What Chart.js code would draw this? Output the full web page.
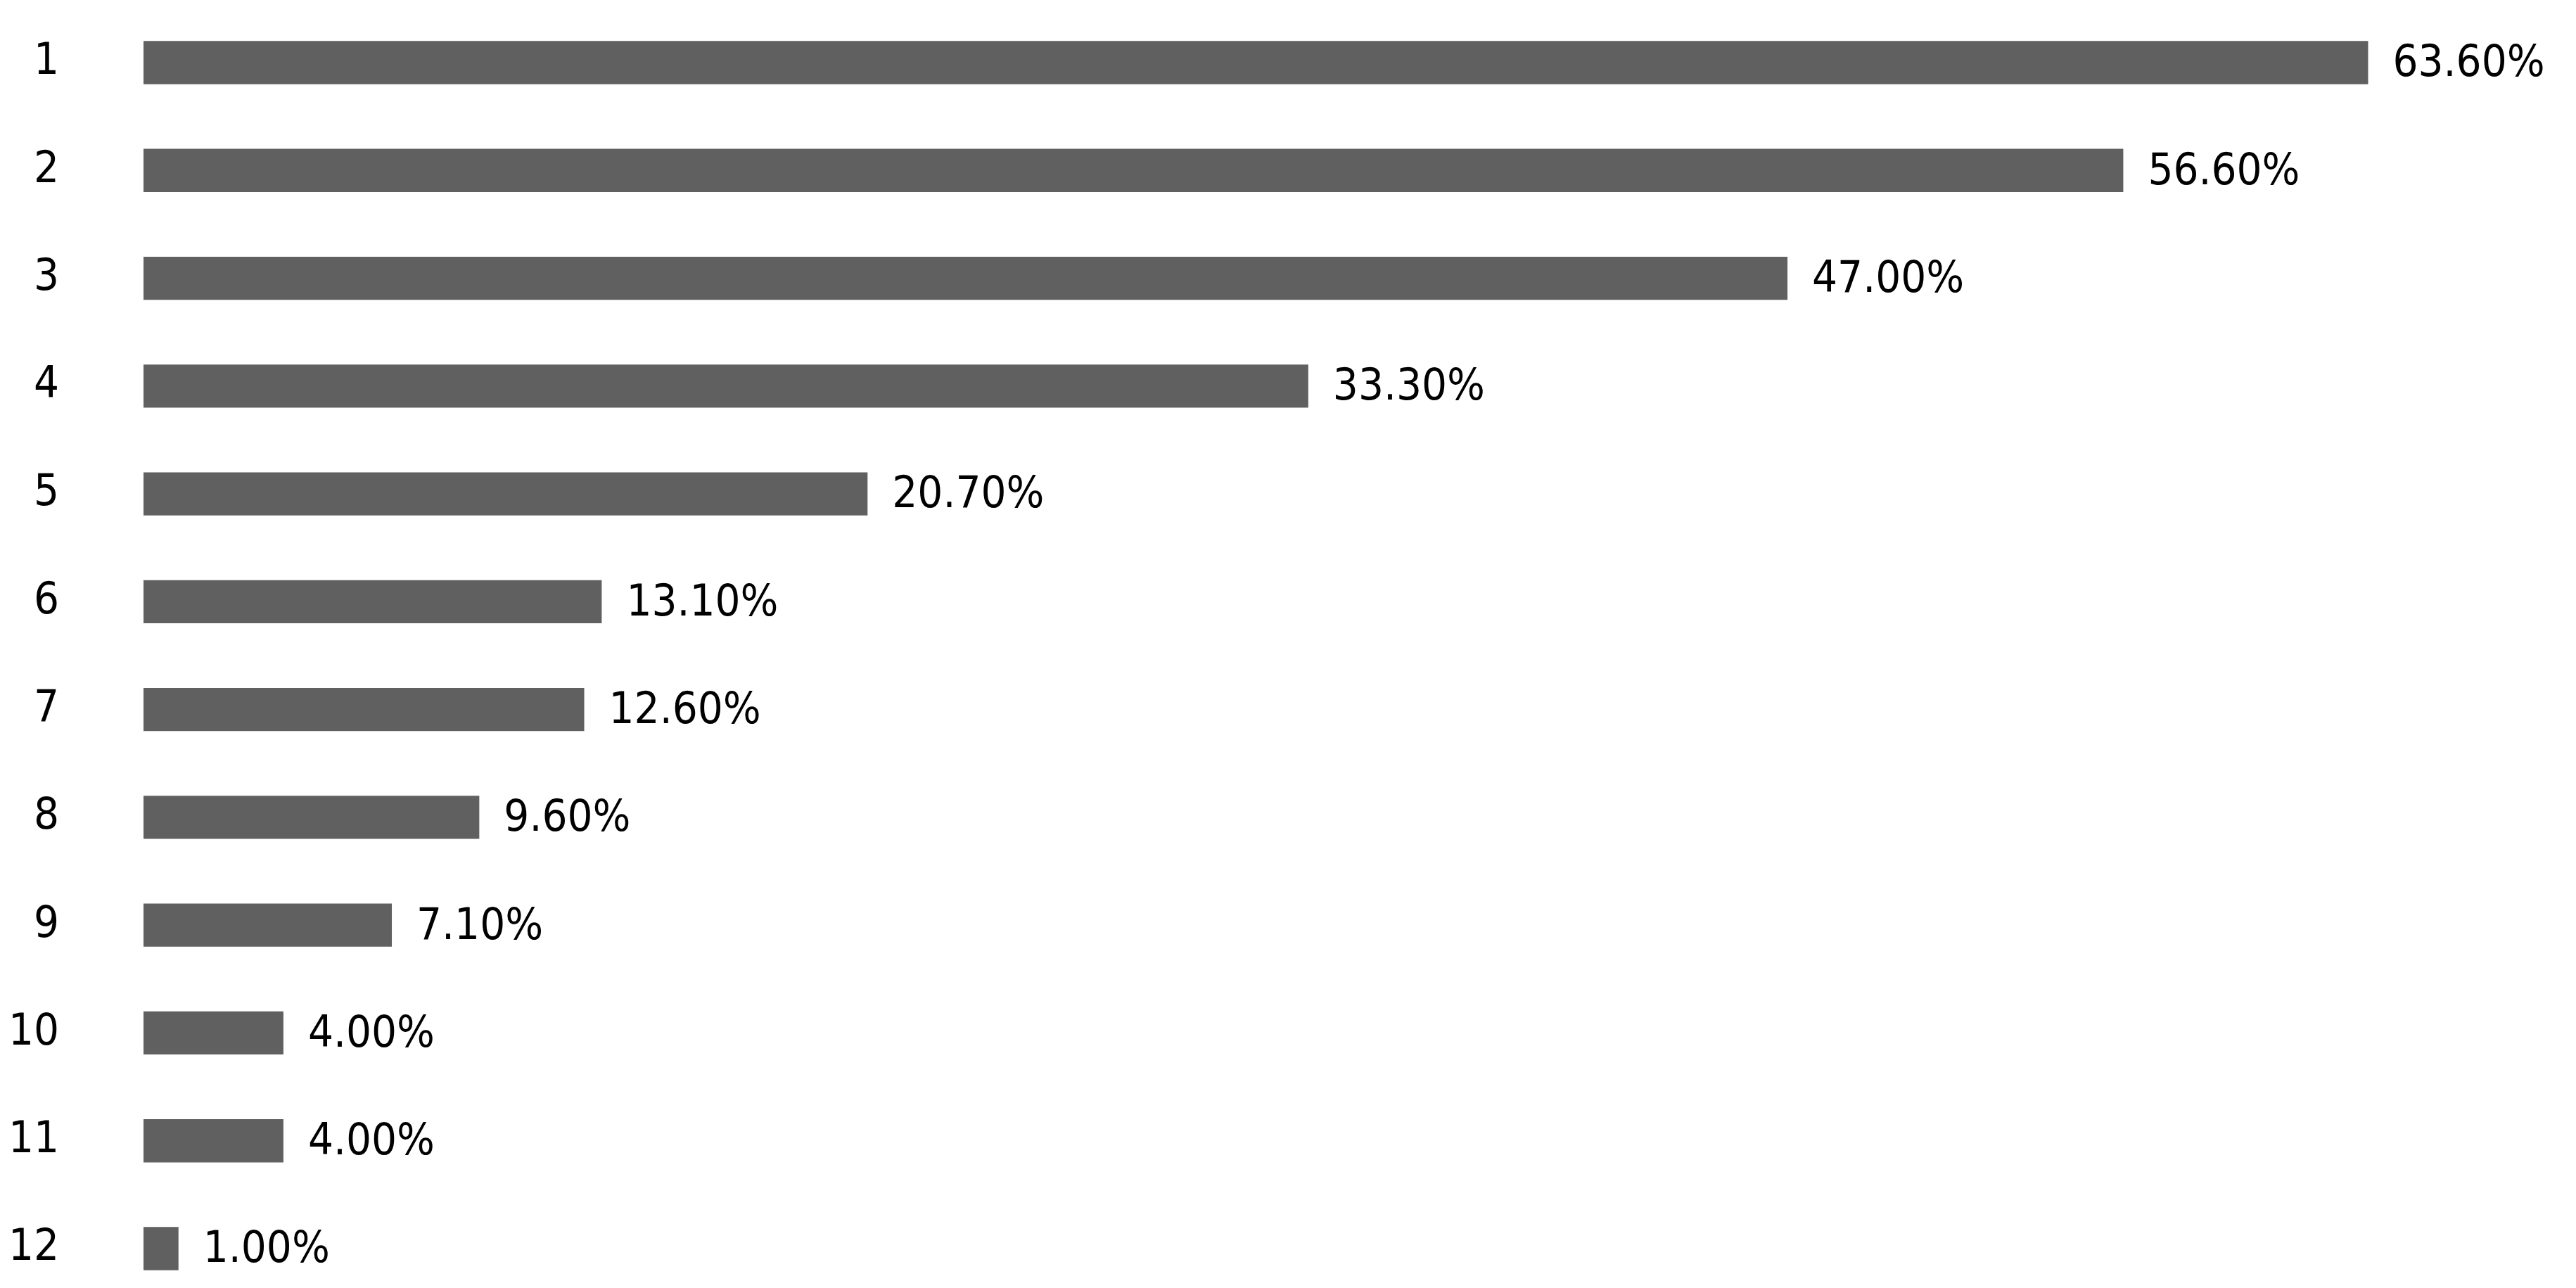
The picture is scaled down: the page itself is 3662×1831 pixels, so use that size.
<!DOCTYPE html>
<html>
<head>
<meta charset="utf-8">
<script src="https://cdn.jsdelivr.net/npm/chart.js@4/dist/chart.umd.min.js"></script>
<style>
  html, body { margin: 0; padding: 0; background: #ffffff; }
  #wrap { width: 3662px; height: 1831px; }
</style>
</head>
<body>
<div id="wrap"><canvas id="c" width="3662" height="1831"></canvas></div>
<script>
const categories = ["1", "2", "3", "4", "5", "6", "7", "8", "9", "10", "11", "12"];
const values = [63.6, 56.6, 47.0, 33.3, 20.7, 13.1, 12.6, 9.6, 7.1, 4.0, 4.0, 1.0];
const xAxisMax = 69;

const FONT = "'DejaVu Sans Condensed', 'Liberation Sans', Arial, sans-serif";

const valueLabels = {
  id: 'valueLabels',
  afterDatasetsDraw(chart) {
    const ctx = chart.ctx;
    const meta = chart.getDatasetMeta(0);
    ctx.save();
    ctx.font = "63px " + FONT;
    ctx.fillStyle = "#000000";
    ctx.textAlign = "left";
    ctx.textBaseline = "middle";
    meta.data.forEach((bar, i) => {
      ctx.fillText(values[i].toFixed(2) + "%", bar.x + 35, bar.y + 3);
    });
    ctx.restore();
  }
};

new Chart(document.getElementById('c'), {
  type: 'bar',
  data: {
    labels: categories,
    datasets: [{
      data: values,
      backgroundColor: '#606060',
      borderWidth: 0,
      barPercentage: 0.4,
      categoryPercentage: 1.0,
      clip: false
    }]
  },
  options: {
    indexAxis: 'y',
    responsive: false,
    animation: false,
    devicePixelRatio: 1,
    layout: { padding: { top: 89, bottom: 56, left: 0, right: 27 } },
    plugins: {
      legend: { display: false },
      tooltip: { enabled: false },
      title: { display: false }
    },
    scales: {
      x: {
        display: false,
        min: 0,
        max: xAxisMax
      },
      y: {
        type: 'category',
        offset: false,
        grid: { display: false, drawTicks: false },
        border: { display: false },
        ticks: {
          autoSkip: false,
          color: '#000000',
          font: { family: FONT, size: 63 },
          padding: 120
        },
        afterFit(axis) {
          axis.width = 204;
          axis.paddingTop = 0;
          axis.paddingBottom = 0;
        }
      }
    }
  },
  plugins: [valueLabels]
});
</script>
</body>
</html>
